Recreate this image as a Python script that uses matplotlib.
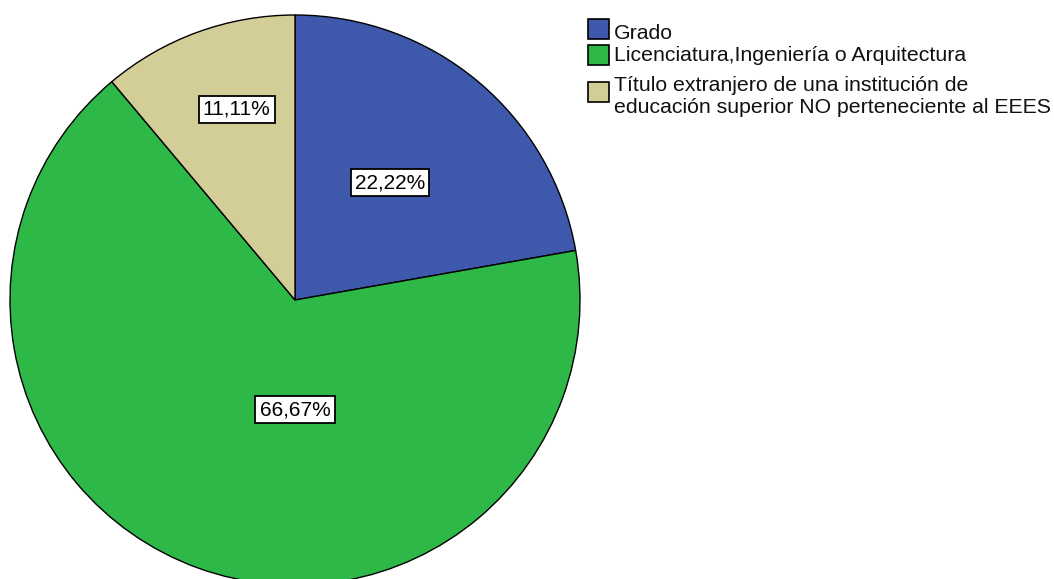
import matplotlib
matplotlib.use("Agg")
import matplotlib.pyplot as plt
from matplotlib.patches import Rectangle
import numpy as np

categories = ["Grado", "Licenciatura,Ingeniería o Arquitectura",
              "Título extranjero de una institución de\neducación superior NO perteneciente al EEES"]
values = [22.22, 66.67, 11.11]
labels = ["22,22%", "66,67%", "11,11%"]
colors = ["#3E58AC", "#2EB848", "#D3CE97"]

W, H = 1054, 579
fig = plt.figure(figsize=(W / 100, H / 100), dpi=100)
plt.rcParams['font.family'] = ['Liberation Sans', 'DejaVu Sans']

cx, cy, R = 295, 300, 285
ax = fig.add_axes([(cx - R) / W, (H - cy - R) / H, 2 * R / W, 2 * R / H])
wedges, _ = ax.pie(values, colors=colors, startangle=90, counterclock=False,
                   wedgeprops=dict(edgecolor="black", linewidth=1.0), radius=1)
ax.set_xlim(-1, 1)
ax.set_ylim(-1, 1)
ax.set_aspect("equal")
ax.axis("off")

# label placement (angle, radial fraction of radius)
label_pos = [(51, 0.53), (-90, 0.385), (107, 0.70)]
for lab, (ang, r) in zip(labels, label_pos):
    a = np.deg2rad(ang)
    ax.text(r * np.cos(a), r * np.sin(a), lab, ha="center", va="center", fontsize=15,
            bbox=dict(boxstyle="square,pad=0.2", facecolor="white", edgecolor="black", linewidth=1.3))

# legend (pixel layout)
bw, bh = 21, 20
box_centers = [29, 55, 92]
first_baselines = [39, 61, 91]
line_step = 22
for cat, col, yc, yb in zip(categories, colors, box_centers, first_baselines):
    fig.add_artist(Rectangle((588 / W, (H - yc - bh / 2) / H), bw / W, bh / H,
                             transform=fig.transFigure, facecolor=col, edgecolor="black", linewidth=1.2))
    for i, line in enumerate(cat.split("\n")):
        fig.text(614 / W, (H - yb - i * line_step) / H, line, ha="left", va="baseline",
                 fontsize=15.3, color="#111111")

fig.savefig("out.png", dpi=100)
